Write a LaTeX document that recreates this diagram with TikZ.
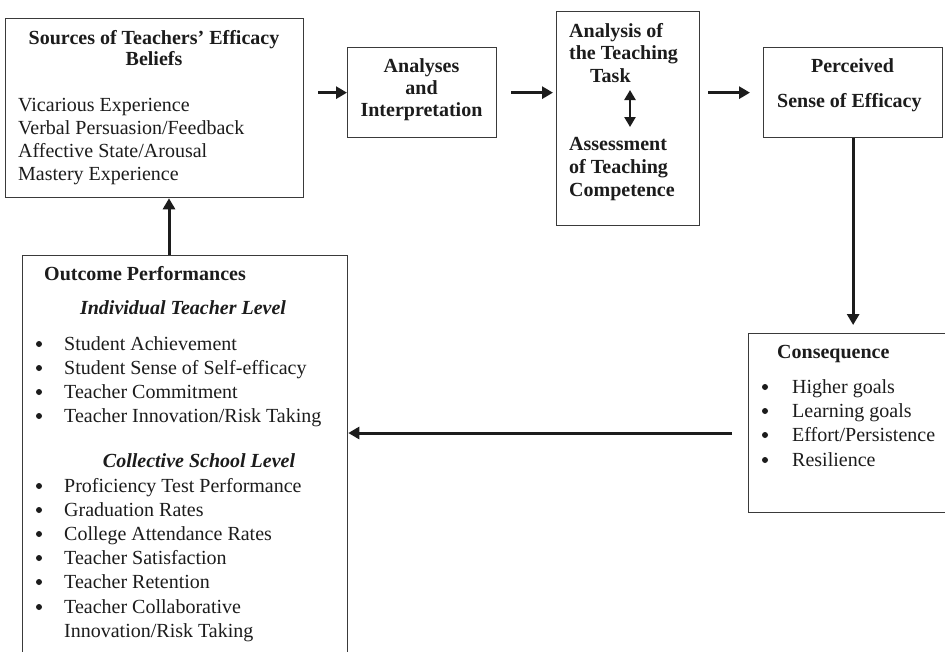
\documentclass[tikz,border=0pt]{standalone}
\usepackage{fontspec}
\setmainfont{Liberation Serif}
\usetikzlibrary{arrows.meta}
\definecolor{ink}{HTML}{1C1C1C}
\definecolor{boxgray}{HTML}{3A3A3A}
\begin{document}
\begin{tikzpicture}[x=1pt,y=-1pt,
  box/.style={draw=boxgray, line width=1.3pt, inner sep=0pt, anchor=north west},
  txt/.style={anchor=base west, inner sep=0pt, text=ink, font=\fontsize{20}{24}\selectfont},
  head/.style={txt, font=\fontsize{20}{24}\selectfont\bfseries},
  headc/.style={head, anchor=base},
  sub/.style={txt, anchor=base, font=\fontsize{20}{24}\selectfont\bfseries\itshape},
  arr/.style={line width=3pt, draw=ink, -{Triangle[length=11pt,width=12pt]}},
  darr/.style={line width=2.4pt, draw=ink, {Triangle[length=10pt,width=11pt]}-{Triangle[length=10pt,width=11pt]}},
  dot/.style={fill=ink, draw=none}
]
\useasboundingbox (0,0) rectangle (945,651);
\clip (0,0) rectangle (945,651);
\fill[white] (0,0) rectangle (945,651);

% boxes
\node[box, minimum width=298pt, minimum height=179pt] (src)  at (5,18) {};
\node[box, minimum width=149pt, minimum height=90pt]  (ana)  at (347,47) {};
\node[box, minimum width=143pt, minimum height=214pt] (task) at (556,11) {};
\node[box, minimum width=179pt, minimum height=90pt]  (per)  at (763,47) {};
\node[box, minimum width=220pt, minimum height=179pt] (cons) at (748,333) {};
\node[box, minimum width=325pt, minimum height=430pt] (out)  at (22,255) {};

% sources of efficacy beliefs
\node[headc] (srcH1) at (154,44) {Sources of Teachers’ Efficacy};
\node[headc] (srcH2) at (154,65) {Beliefs};
\node[txt] (s1) at (18,111) {Vicarious Experience};
\node[txt] (s2) at (18,134) {Verbal Persuasion/Feedback};
\node[txt] (s3) at (18,157) {Affective State/Arousal};
\node[txt] (s4) at (18,180) {Mastery Experience};

% analyses and interpretation
\node[headc] (a1) at (421.5,72) {Analyses};
\node[headc] (a2) at (421.5,94) {and};
\node[headc] (a3) at (421.5,116) {Interpretation};

% analysis of the teaching task
\node[head] (t1) at (569,37) {Analysis of};
\node[head] (t2) at (569,59) {the Teaching};
\node[head] (t3) at (590,82) {Task};
\node[head] (t4) at (569,150) {Assessment};
\node[head] (t5) at (569,173) {of Teaching};
\node[head] (t6) at (569,196) {Competence};
\coordinate (dTop) at (630,90);
\coordinate (dBot) at (630,127);
\draw[darr] (dTop) -- (dBot);

% perceived sense of efficacy
\node[headc] (p1) at (852.5,72) {Perceived};
\node[head] (p2) at (777,107) {Sense of Efficacy};

% consequence
\node[head] (c0) at (777,358) {Consequence};
\foreach \y/\t [count=\i] in {393/Higher goals, 417/Learning goals, 441/Effort\slash Persistence, 466/Resilience}{
  \fill[dot] (765,\y-6) circle (3pt);
  \node[txt] (c\i) at (792,\y) {\t};
}

% outcome performances
\node[head] (o0) at (44,280) {Outcome Performances};
\node[sub] (oInd) at (183,314) {Individual Teacher Level};
\foreach \y/\t [count=\i] in {350/Student Achievement, 374/Student Sense of Self-efficacy, 398/Teacher Commitment, 422/Teacher Innovation\slash Risk Taking}{
  \fill[dot] (39,\y-6) circle (3pt);
  \node[txt] (oi\i) at (64,\y) {\t};
}
\node[sub] (oCol) at (199,467) {Collective School Level};
\foreach \y/\t [count=\i] in {492/Proficiency Test Performance, 516/Graduation Rates, 540/College Attendance Rates, 564/Teacher Satisfaction, 588/Teacher Retention, 613/Teacher Collaborative}{
  \fill[dot] (39,\y-6) circle (3pt);
  \node[txt] (oc\i) at (64,\y) {\t};
}
\node[txt] (oc7) at (64,637) {Innovation/Risk Taking};

% connectors
\draw[arr] ([xshift=14pt]src.east |- ana.west) -- (ana.west);
\draw[arr] ([xshift=14pt]ana.east) -- ([xshift=-3pt]task.west |- ana.east);
\draw[arr] ([xshift=8pt]task.east |- per.west) -- ([xshift=-13pt]per.west);
\draw[arr] (per.south) -- ([yshift=8pt]cons.north -| per.south);
\coordinate (cStart) at (732,433);
\draw[arr] (cStart) -- (cStart -| out.east);
\coordinate (oStart) at (169,255);
\draw[arr] (oStart) -- (oStart |- src.south);
\end{tikzpicture}
\end{document}
